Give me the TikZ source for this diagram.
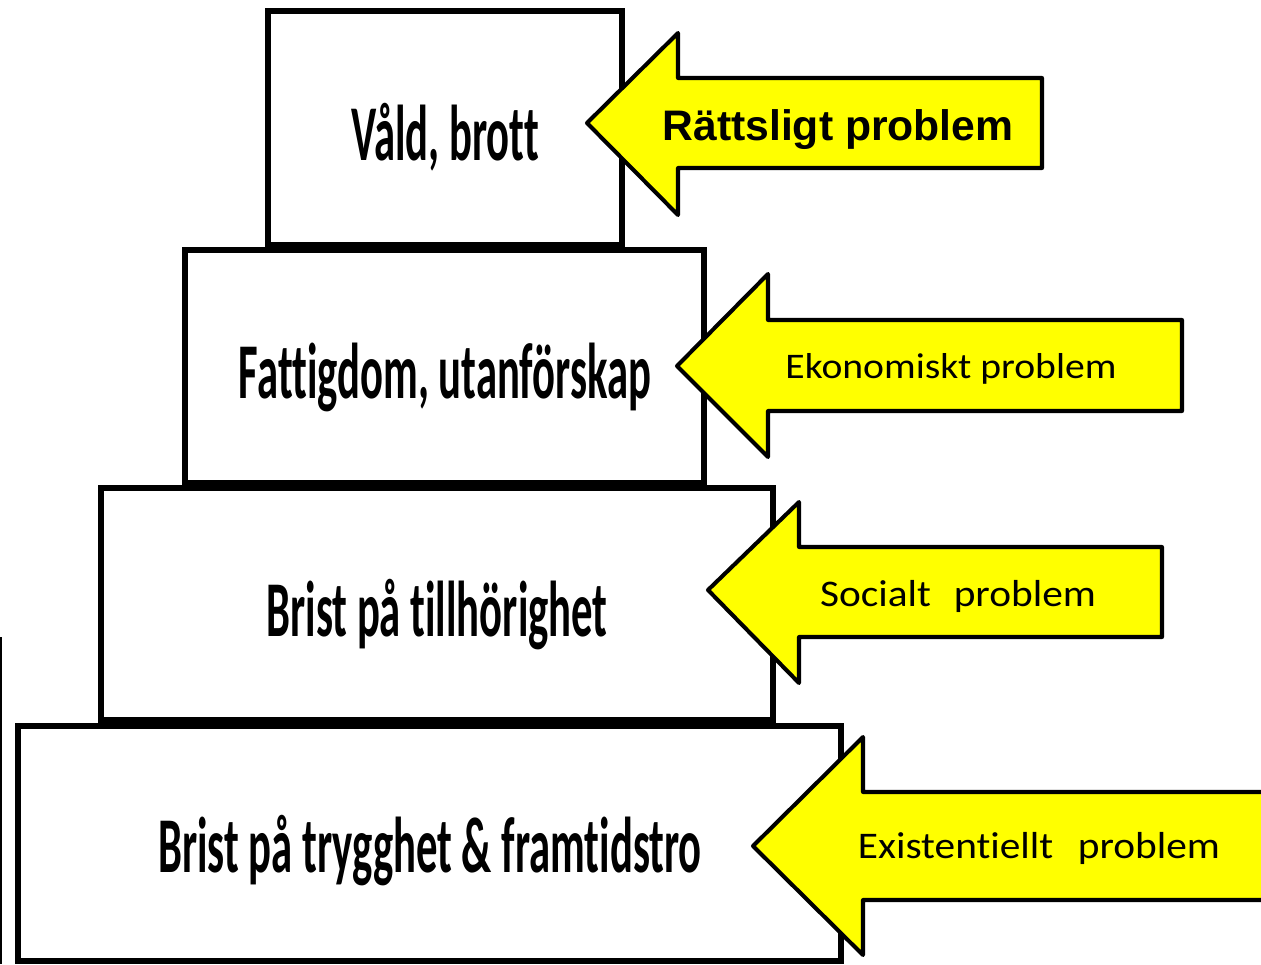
\documentclass[tikz,border=0pt]{standalone}
\usepackage{fontspec}
\newfontfamily\cond[FakeStretch=0.54,Ligatures={NoCommon}]{Carlito}
\newfontfamily\calib[FakeStretch=1.1,Ligatures={NoCommon}]{Carlito}
\newfontfamily\arialb{Liberation Sans}
\definecolor{yel}{RGB}{255,255,0}
\begin{document}
\begin{tikzpicture}[x=0.02cm,y=-0.02cm,
 box/.style={draw=black, line width=3.4pt, fill=white},
 arrowshape/.style={draw=black, line width=2.3pt, fill=yel, line join=round},
 boxtext/.style={anchor=base, inner sep=0pt, font=\cond\bfseries\fontsize{45}{54}\selectfont},
 arrtext/.style={anchor=base, inner sep=0pt, font=\calib\fontsize{20.5}{24}\selectfont},
 arrtextb/.style={anchor=base, inner sep=0pt, font=\calib\fontsize{21.4}{25}\selectfont}]
\useasboundingbox (0,0) rectangle (1261,964);
% boxes
\draw[box] (268,11) rectangle (622,245);
\draw[box] (185,250) rectangle (704,483);
\draw[box] (101,488) rectangle (773,720);
\draw[box] (18,726) rectangle (841,961);
% thin line at left edge
\draw[line width=1.2pt] (1,637) -- (1,964);
% arrows
\draw[arrowshape] (587,123) -- (678,33) -- (678,78) -- (1042,78) -- (1042,168) -- (678,168) -- (678,215) -- cycle;
\draw[arrowshape] (677,366) -- (768,274) -- (768,320) -- (1182,320) -- (1182,411) -- (768,411) -- (768,457) -- cycle;
\draw[arrowshape] (708,590) -- (799,502) -- (799,547) -- (1162,547) -- (1162,637) -- (799,637) -- (799,683) -- cycle;
\draw[arrowshape] (753,846) -- (863,737) -- (863,792) -- (1275,792) -- (1275,900) -- (863,900) -- (863,955) -- cycle;
% box texts
\node[boxtext] (t1) at (445,160) {Våld, brott};
\node[boxtext] (t2) at (445,398) {Fattigdom, utanförskap};
\node[boxtext] (t3) at (437,636) {Brist på tillhörighet};
\node[boxtext] (t4) at (430,872) {Brist på trygghet \& framtidstro};
% arrow texts
\node[anchor=base, inner sep=0pt, font=\arialb\bfseries\fontsize{24.3}{29}\selectfont] (a1) at (838,140) {Rättsligt problem};
\node[arrtext] (a2) at (951,378) {Ekonomiskt problem};
\node[arrtextb] (a3) at (958,606) {Socialt\hspace{13pt}problem};
\node[arrtextb] (a4) at (1039,858) {Existentiellt\hspace{14pt}problem};
\end{tikzpicture}
\end{document}
